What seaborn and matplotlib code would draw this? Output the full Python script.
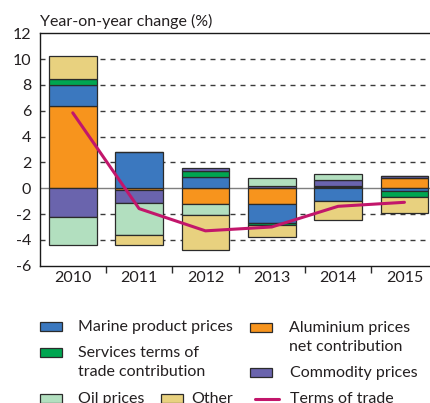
import numpy as np
import matplotlib
matplotlib.use("Agg")
import matplotlib.pyplot as plt
import matplotlib.patches as mpatches
from matplotlib.lines import Line2D
import seaborn as sns

years = ["2010", "2011", "2012", "2013", "2014", "2015"]

# contributions to terms of trade, percentage points
aluminium = [6.38, -0.15, -1.19, -1.19, 0.12, 0.83]
marine = [1.60, 2.82, 0.90, -1.47, -1.00, -0.23]
services = [0.49, 0.00, 0.47, -0.18, 0.08, -0.44]
commodity = [-2.20, -1.01, 0.23, 0.20, 0.40, 0.12]
oil = [-2.16, -2.43, -0.85, 0.60, 0.47, 0.00]
other = [1.79, -0.77, -2.71, -0.93, -1.48, -1.21]
terms_of_trade = [5.84, -1.58, -3.30, -3.00, -1.40, -1.09]

series = [
    ("Aluminium prices\nnet contribution", aluminium, "#f7941d"),
    ("Marine product prices", marine, "#3b78bf"),
    ("Services terms of\ntrade contribution", services, "#00a651"),
    ("Commodity prices", commodity, "#6a64ad"),
    ("Oil prices", oil, "#b2dfbf"),
    ("Other", other, "#e8d17f"),
]
line_color = "#c2166b"
text_color = "#231f20"

sns.set_theme(style="white")
plt.rcParams["font.family"] = ["Lato", "DejaVu Sans"]
plt.rcParams["axes.unicode_minus"] = False
plt.rcParams["text.color"] = text_color
plt.rcParams["xtick.color"] = text_color
plt.rcParams["ytick.color"] = text_color

fig = plt.figure(figsize=(4.3, 4.03), dpi=100)
W, H = 430, 403
ax = fig.add_axes([39.6 / W, 1 - 265.7 / H, 398 / W, (265.7 - 33.3) / H])

# stacked bars, positives and negatives stacked separately
pos_base = np.zeros(len(years))
neg_base = np.zeros(len(years))
for name, vals, col in series:
    vals = np.array(vals)
    bottom = np.where(vals >= 0, pos_base, neg_base)
    sns.barplot(x=years, y=vals, bottom=bottom, color=col, saturation=1,
                width=0.72, edgecolor="#2b2b2b", linewidth=0.9,
                errorbar=None, ax=ax, zorder=3)
    pos_base += np.clip(vals, 0, None)
    neg_base += np.clip(vals, None, 0)

sns.lineplot(x=np.arange(len(years)), y=terms_of_trade, color=line_color,
             linewidth=2.2, ax=ax, zorder=4)

# gridlines
for g in [-4, -2, 2, 4, 6, 8, 10]:
    ax.axhline(g, color="#3a3a3a", lw=1.0, ls=(0, (3.6, 3.6)), zorder=1)
ax.axhline(0, color="#7f7f7f", lw=1.0, zorder=2)

ax.set_ylim(-6, 12)
ax.set_xlim(-0.5, 5.5)
ax.set_yticks(np.arange(-6, 13, 2))
ax.set_xticks(np.arange(len(years)))
ax.set_xticklabels(years)
ax.set_xticks(np.arange(0.5, 5.0, 1), minor=True)
ax.tick_params(axis="both", which="major", length=0, labelsize=11.5)
ax.tick_params(axis="y", pad=6)
ax.tick_params(axis="x", pad=4)
ax.tick_params(axis="x", which="minor", bottom=True, length=5, width=1,
               color="#2b2b2b", direction="out")
ax.set_xlabel("")
ax.set_ylabel("")
for s in ["left", "bottom", "top"]:
    ax.spines[s].set_color("#1a1a1a")
    ax.spines[s].set_linewidth(1.0)
ax.spines["right"].set_visible(False)

fig.text(40 / W, 1 - 21 / H, "Year-on-year change (%)", fontsize=11.5,
         va="center", ha="left")

# legend, laid out by hand like the original
colors = {n: c for n, _, c in series}
legend_items = [
    ("Marine product prices", 40, 326, 78),
    ("Aluminium prices\nnet contribution", 250, 327, 289),
    ("Services terms of\ntrade contribution", 40, 352, 78),
    ("Commodity prices", 250, 372, 290),
    ("Oil prices", 40, 398, 78),
    ("Other", 161, 398, 191),
]
for name, px, py, tx in legend_items:
    rect = mpatches.Rectangle((px / W, 1 - (py + 4.5) / H), 22 / W, 9 / H,
                              transform=fig.transFigure, facecolor=colors[name],
                              edgecolor="#2b2b2b", linewidth=0.9)
    fig.add_artist(rect)
    for i, part in enumerate(name.split("\n")):
        fig.text(tx / W, 1 - (py + 1 + i * 19) / H, part, fontsize=11.5,
                 va="center", ha="left")

fig.add_artist(Line2D([255 / W, 279 / W], [1 - 399 / H, 1 - 399 / H],
                      transform=fig.transFigure, color=line_color, lw=2.2))
fig.text(290 / W, 1 - 399 / H, "Terms of trade", fontsize=11.5, va="center", ha="left")

fig.savefig("out.png", dpi=100)
